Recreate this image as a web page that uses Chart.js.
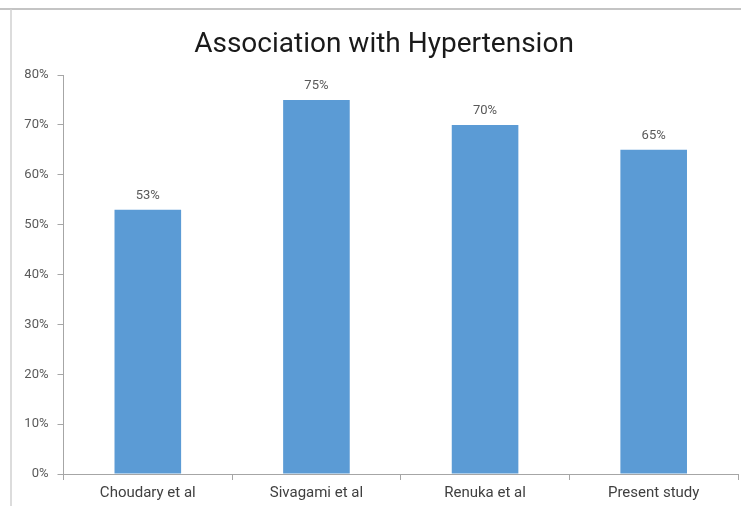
<!DOCTYPE html>
<html>
<head>
<meta charset="utf-8">
<script src="https://cdn.jsdelivr.net/npm/chart.js@4.4.1/dist/chart.umd.min.js"></script>
<style>
  html, body { margin: 0; padding: 0; background: #ffffff; }
  #wrap { position: relative; width: 741px; height: 506px; }
</style>
</head>
<body>
<div id="wrap"><canvas id="c" width="741" height="506"></canvas></div>
<script>
// Share of cases associated with hypertension, by study
const studies = ['Choudary et al', 'Sivagami et al', 'Renuka et al', 'Present study'];
const hypertensionPct = [53, 75, 70, 65];
const yTicks = [0, 10, 20, 30, 40, 50, 60, 70, 80];
const chartTitle = 'Association with Hypertension';

const barColor = '#5b9bd5';
const axisColor = '#a6a6a6';
const labelColor = '#595959';
const fontFamily = 'Roboto, "Liberation Sans", sans-serif';

// Thin frame along the top and left edge of the figure, plus the heading
const framePlugin = {
  id: 'frame',
  beforeDraw(chart) {
    const ctx = chart.ctx;
    ctx.save();
    ctx.fillStyle = '#ffffff';
    ctx.fillRect(0, 0, chart.width, chart.height);
    ctx.strokeStyle = '#c4c4c4';
    ctx.lineWidth = 2;
    ctx.beginPath();
    ctx.moveTo(0, 9);
    ctx.lineTo(chart.width, 9);
    ctx.stroke();
    ctx.strokeStyle = '#d0d0d0';
    ctx.lineWidth = 1.5;
    ctx.beginPath();
    ctx.moveTo(11, 9);
    ctx.lineTo(11, chart.height);
    ctx.stroke();

    ctx.font = '28px ' + fontFamily;
    ctx.fillStyle = '#1a1a1a';
    ctx.textAlign = 'center';
    ctx.textBaseline = 'middle';
    ctx.fillText(chartTitle, 384, 45);
    ctx.restore();
  }
};

// Percentage value printed above each bar
const valueLabels = {
  id: 'valueLabels',
  afterDatasetsDraw(chart) {
    const ctx = chart.ctx;
    const meta = chart.getDatasetMeta(0);
    ctx.save();
    ctx.font = '13px ' + fontFamily;
    ctx.fillStyle = labelColor;
    ctx.textAlign = 'center';
    ctx.textBaseline = 'middle';
    meta.data.forEach((bar, i) => {
      ctx.fillText(hypertensionPct[i] + '%', bar.x, bar.y - 14);
    });
    ctx.restore();
  }
};

new Chart(document.getElementById('c'), {
  type: 'bar',
  data: {
    labels: studies,
    datasets: [{
      data: hypertensionPct,
      backgroundColor: barColor,
      borderWidth: 0,
      categoryPercentage: 1,
      barPercentage: 0.395
    }]
  },
  options: {
    responsive: false,
    animation: false,
    layout: { padding: { top: 75, left: 14, right: 3, bottom: 0 } },
    plugins: {
      legend: { display: false },
      tooltip: { enabled: false },
      title: { display: false }
    },
    scales: {
      x: {
        afterFit(axis) { axis.height = 32; },
        grid: { display: true, drawOnChartArea: false, drawTicks: true, tickLength: 6, color: axisColor, offset: true },
        border: { display: true, color: axisColor, width: 1 },
        ticks: { color: '#404040', font: { family: fontFamily, size: 15 }, padding: 4, maxRotation: 0 }
      },
      y: {
        min: 0,
        max: 80,
        afterFit(axis) { axis.width = 49.5; },
        afterBuildTicks(axis) { axis.ticks = yTicks.map(v => ({ value: v })); },
        grid: { display: true, drawOnChartArea: false, drawTicks: true, tickLength: 6, color: axisColor },
        border: { display: true, color: axisColor, width: 1 },
        ticks: {
          color: labelColor,
          font: { family: fontFamily, size: 13 },
          padding: 9,
          callback: v => v + '%'
        }
      }
    }
  },
  plugins: [framePlugin, valueLabels]
});
</script>
</body>
</html>
